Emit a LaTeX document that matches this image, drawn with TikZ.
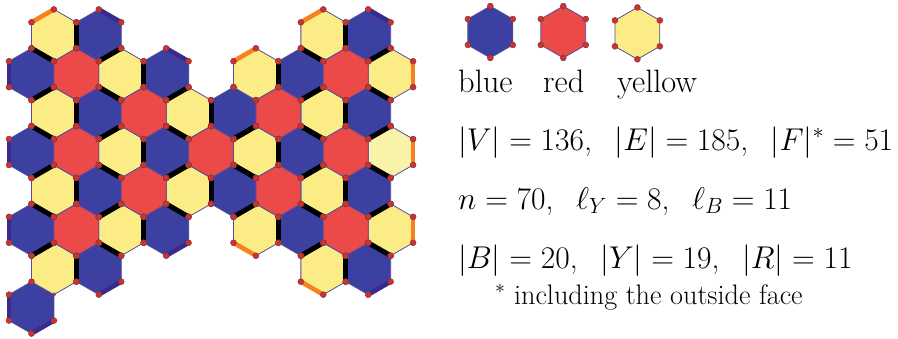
\documentclass[tikz,border=0pt]{standalone}
\usepackage{fix-cm}
\usepackage{xcolor}
\usepackage{tikz}
\usetikzlibrary{positioning,calc}

\definecolor{hexblue}{HTML}{3C40A0}
\definecolor{hexred}{HTML}{EC4A48}
\definecolor{hexyellow}{HTML}{FBEC86}
\definecolor{hexpale}{HTML}{F9F3A9}
\definecolor{rimblue}{HTML}{3A2A8C}
\definecolor{rimorange}{HTML}{F6821F}
\definecolor{dotred}{HTML}{DE2A28}

\tikzset{
  cell/.style={draw=rimblue!85!white, line width=0.8pt},
  spoke/.style={black, line width=5pt},
  rim/.style={line width=4.6pt},
  vertexdot/.style={fill=dotred, draw=black!70, line width=0.4pt},
  caption/.style={anchor=base west, inner sep=0pt, font=\fontsize{31.5}{36}\selectfont},
  legendname/.style={caption, font=\fontsize{32.4}{36}\selectfont},
}

% hexagon corners, around the centre (0,0) of the current scope
\newcommand{\hexoutline}{(0,-2/3) -- (1,-1/3) -- (1,1/3) -- (0,2/3) -- (-1,1/3) -- (-1,-1/3) -- cycle}
\newcommand{\hexcell}[3]{\begin{scope}[shift={(#1,#2)}]
  \draw[cell, fill=#3] \hexoutline;
\end{scope}}
\newcommand{\hexdots}[2]{\begin{scope}[shift={(#1,#2)}]
  \foreach \px/\py in {0/-0.6667, 1/-0.3333, 1/0.3333, 0/0.6667, -1/0.3333, -1/-0.3333}
    \fill[vertexdot] (\px,\py) circle (3pt);
\end{scope}}
\newcommand{\gap}{,\hspace{0.72em}}

\begin{document}
\begin{tikzpicture}[x=1pt,y=-1pt]
\useasboundingbox (0,0) rectangle (898,338);

\begin{scope}[shift={(9,35.3)},x=22.45pt,y=-38.9pt]
% Faces
\foreach \cx/\cy in {4/0,16/0,1/1,7/1,13/1,4/2,10/2,16/2,1/3,7/3,13/3,4/4,10/4,16/4,1/5,7/5,13/5,4/6,16/6,1/7}
  {\hexcell{\cx}{\cy}{hexblue}}
\foreach \cx/\cy in {2/0,14/0,5/1,11/1,17/1,2/2,8/2,14/2,5/3,11/3,2/4,8/4,14/4,5/5,11/5,17/5,2/6,14/6}
  {\hexcell{\cx}{\cy}{hexyellow}}
\hexcell{17}{3}{hexpale}
\foreach \cx/\cy in {3/1,15/1,6/2,12/2,3/3,9/3,15/3,6/4,12/4,3/5,15/5}
  {\hexcell{\cx}{\cy}{hexred}}

% Black edges leaving the red faces
\foreach \cx/\cy in {3/1,15/1,6/2,3/3,9/3,15/3,6/4,12/4,3/5,15/5} {
  \begin{scope}[shift={(\cx,\cy)}]
    \draw[spoke] (0,-2/3) -- (0,-4/3);
    \draw[spoke] (1,-1/3) -- (2,-2/3);
    \draw[spoke] (1,1/3) -- (2,2/3);
    \draw[spoke] (0,2/3) -- (0,4/3);
    \draw[spoke] (-1,1/3) -- (-2,2/3);
    \draw[spoke] (-1,-1/3) -- (-2,-2/3);
  \end{scope}
}
\begin{scope}[shift={(12,2)}]
  \draw[spoke] (0,-2/3) -- (0,-4/3);
  \draw[spoke] (1,-1/3) -- (2,-2/3);
  \draw[spoke] (1,1/3) -- (2,2/3);
  \draw[spoke] (0,2/3) -- (0,4/3);
  \draw[spoke] (-1,1/3) -- (-2,2/3);
\end{scope}

% Outer edges, yellow faces
\draw[rim, rimorange] (1,-1/3) -- (2,-2/3);
\draw[rim, rimorange] (13,-1/3) -- (14,-2/3);
\draw[rim, rimorange] (10,2/3) -- (11,1/3);
\draw[rim, rimorange] (18,2/3) -- (18,4/3);
\draw[rim, rimorange] (18,8/3) -- (18,10/3);
\draw[rim, rimorange] (18,14/3) -- (18,16/3);
\draw[rim, rimorange] (10,16/3) -- (11,17/3);
\draw[rim, rimorange] (13,19/3) -- (14,20/3);
% Outer edges, blue faces
\draw[rim, rimblue] (4,-2/3) -- (5,-1/3);
\draw[rim, rimblue] (16,-2/3) -- (17,-1/3);
\draw[rim, rimblue] (7,1/3) -- (8,2/3);
\draw[rim, rimblue] (0,2/3) -- (0,4/3);
\draw[rim, rimblue] (0,8/3) -- (0,10/3);
\draw[rim, rimblue] (0,14/3) -- (0,16/3);
\draw[rim, rimblue] (0,20/3) -- (0,22/3);
\draw[rim, rimblue] (7,17/3) -- (8,16/3);
\draw[rim, rimblue] (4,20/3) -- (5,19/3);
\draw[rim, rimblue] (16,20/3) -- (17,19/3);
\draw[rim, rimblue] (1,23/3) -- (2,22/3);

% Vertices
\foreach \cx/\cy in {4/0,16/0,1/1,7/1,13/1,4/2,10/2,16/2,1/3,7/3,13/3,4/4,10/4,16/4,1/5,7/5,13/5,4/6,16/6,2/0,14/0,5/1,11/1,17/1,2/2,8/2,14/2,5/3,11/3,17/3,2/4,8/4,14/4,5/5,11/5,17/5,14/6,3/1,15/1,6/2,12/2,3/3,9/3,15/3,6/4,12/4,3/5,15/5}
  {\hexdots{\cx}{\cy}}
% bottom left corner, with its small dot
\foreach \px/\py in {2/5.3333, 3/5.6667, 3/6.3333, 1/6.3333, 1/5.6667, 1/7.6667, 2/7.3333, 0/7.3333, 0/6.6667}
  {\fill[vertexdot] (\px,\py) circle (3pt);}
\fill[vertexdot] (2,6.6667) circle (1.9pt);

% Legend
\hexcell{21.44}{-0.085}{hexblue}
\hexcell{24.69}{-0.085}{hexred}
\hexcell{27.99}{-0.05}{hexyellow}
\hexdots{21.44}{-0.085}
\hexdots{24.69}{-0.085}
\hexdots{27.99}{-0.05}
\end{scope}

% Legend names
\node[legendname] (bluename) at (458,92) {blue};
\node[legendname] (redname) at (543,92) {red};
\node[legendname] (yellowname) at (617,92) {yellow};

% Counts
\node[caption] (counts) at (458,150) {$|V|=136$\gap$|E|=185$\gap$|F|^*=51$};
\node[caption] (lengths) at (458,209) {$n=70$\gap$\ell_Y=8$\gap$\ell_B=11$};
\node[caption] (faces) at (458,268) {$|B|=20$\gap$|Y|=19$\gap$|R|=11$};
\node[caption, font=\fontsize{28.2}{30}\selectfont] (note) at (495,304) {$^*$ including the outside face};
\end{tikzpicture}
\end{document}
